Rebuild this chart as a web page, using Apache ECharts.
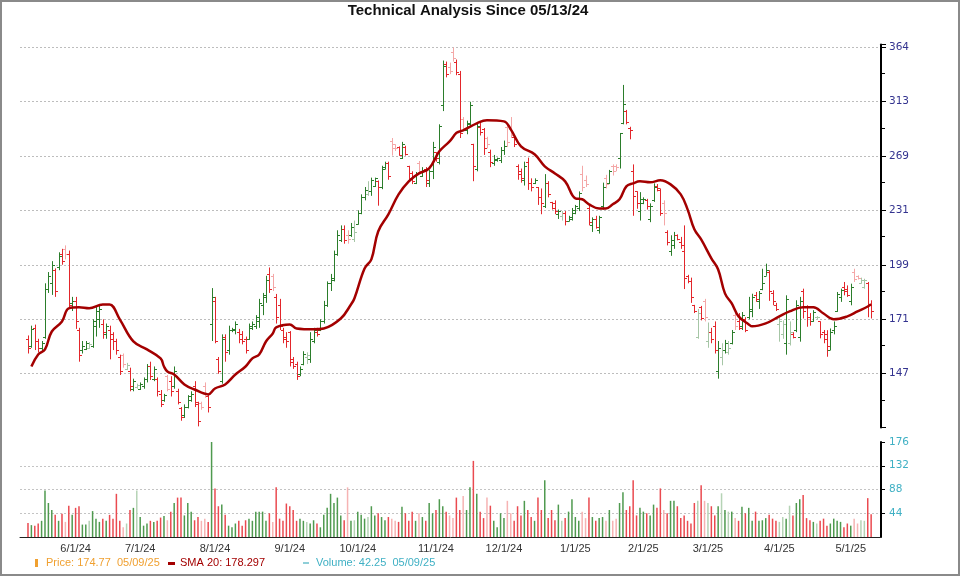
<!DOCTYPE html>
<html><head><meta charset="utf-8">
<script src="https://cdn.jsdelivr.net/npm/echarts@6/dist/echarts.min.js"></script>
<style>html,body{margin:0;padding:0;background:#fff}#c{width:960px;height:576px}</style>
</head><body><div id="c"></div>
<script>
// ---- data (trading days 05/13/24 .. 05/09/25) ----
const opens = [
162,159,167,161,158,163,186,189,196,198,
205,208,205,179,180,166,157,157.5,158,159,
168,171,169,164,166,164,161,154,155,149,
148,141,141.5,141,142,145,150,145,145,139,
136.5,146,144,142,140,133.5,131,134,136.5,142,
135,135.5,142,138,169,180,153,144,163,157,
166,166,165,164,162,162,167,168,170,178,
182,194,193,182,178,166,163,165,153,151,
147,151,154,153,161,165,166,170,178,189,
191,205,213,220,216,216,214,223,230,240,
242,244,248,251,247,260,264,281,278,276,
268,276,262,257,250,264,255,260,250,258,
272,265,310,348,345,359,350,338,298,289,
294,278,260,292,290,283,272,264,266,266,
274,292,290,284,262,258,252,265,250,250,
247,240,234,250,237,236,229,228,230,225,
226,230,233,256,252,233,222,226,219,234,
253,250,262,262,268,295,305,291,258,244,
231,236,238,226,238,248,245,236,218,207,
210,216,212,207,193,190,178,163,177,180,
161,165,168,148,154,157,156,160,173,170,
168,171,172,175,183,180,186,193,195,184,
178,169,164,160,160,164,166,163,185,177,
172,170,172,170,165,164,157,166,175,182,
187,186,180,195,193,189,187,189,178];
const highs = [
163.5,168,168.5,162,161,189,195,201,197,206,
208,210,207,182,182,167,161,161,160.5,171,
177,177.5,171,169,168,165,162,155,155.5,151.5,
149.5,145,143,143.5,145.5,151,152,150,145.5,140.5,
139,146.5,146,150,141,134,135,138.5,140,144,
136,136,143.5,138.5,186.5,182,154,164,164,168,
167,170,166.5,165.5,163,169,170,173,181,184,
193,197.5,194,183.5,181,167,165,165.5,154,152,
150,156.5,156,165,167,167,171,180,190,194,
207,219,222,222,219,223.5,225,231.5,242,247,
251,253.5,253.5,251.5,262,265,265,283,278,276.5,
280,277,262,258,257.5,265.5,261,261,259,280,
272,294,351,350,349,364,352,341,300,297,
313,278.5,295,295,291,284,274,270,268,276,
281,294,300,285,263,260,265,268,253,253,
247,246,256,251,237,238,232,231,231,228,
233,235,244,262,255,235.5,227,228,228,250,
255.5,259,263,263,287,328,306,292,263,244,
243.5,240,239,236,249.5,249,246,238,219,216,
218,216.5,215,222,193.5,192,178,176,177.5,181,
169.5,167,170,161,160,161.5,161,166,174,174,
174.5,172,182,183.6,184.5,185,196.8,199.6,196,185.4,
179,172,170.5,182.8,170,165,180.3,182,186.2,177.8,
174,175.4,172.5,170,166,165.9,166.7,170,184.5,186.2,
189.7,187.9,188.8,196.8,193.2,192,191.4,189.7,180.3];
const lows = [
155.5,158,157,156,156.5,162,184,183,182,196,
199,202,176,175,166.5,152,155.5,157,157.5,158,
163,167,162,162,153,157,155,146.5,149.5,148.5,
140,140,141,140.5,141,143.5,144.5,144,138,134,
136,140,138,141,135,129,130,133.5,136,134,
127,133,137.5,132,161,160,147,143,152,155,
165,164,160,159.5,155.5,161.5,166,166.5,167,173,
179,184,185,169,166,160,158,150,149,144.5,
146,150.5,151,151.5,160,163,165.5,169,177,185,
190,204,212,211,211,215,212,222.5,229,238,
241,241,247,234.5,245.5,259.5,252,269.5,273,269.5,
267,269.5,251.5,249,249,256,254,247,247,252.5,
265,263,305,335,338,350,337,283,289,286,
292,251,258,285,270,275,261,262,265,264,
270,276,283,276,252,250,248,245,244,249,
235,229,233,240,232,229,226,225,222,224.5,
225,229,231,244,247,222,218,220,217,232,
246,249,255,258,260,294,294,282,228,232.5,
225,235.5,232,224,237,244,228,222,210,204,
208,213,208,186,189,179,174,162,170.5,170,
158,160,155.5,145,150.5,155.5,155,159.5,166,166,
166,165,171,172,179.5,176,185.4,193,180,177.8,
175,160.7,162,155,159,162.2,165,160.7,171.4,167.5,
168,169.8,171,162.2,160,154.1,157,164,174.6,179.5,
182.8,182,177.8,189.7,191,188.8,186.2,172,171.4];
const closes = [
158,166.5,161,158,160,186,193,199,185,204,
201,205,178,180,170,155,159,160,159.5,170,
175,176,165,168,162,161,157,148,151,150.5,
142,144,142.5,143,145,150,146,149,140,135,
138.5,141,140,148,136,130.5,134,138,139,136,
129,134,139,134,182,161,148,162,156,166,
166.5,169,162,161,157,168,169,172,179,183,
191,186,187,172,168,162,161,152,150,146,
149,155.5,155,162,166,164,170,178,189,192,
205,216,220,213,214,221,218,230,240,245,
244,252,253,247,261,264,255,275,275,270,
278,271,253,251,256,258,259,252,258,276,
268,293,346,338,341,353,340,287,291,295,
310,262,293,288,275,278,265,267,267.5,274,
277,280,285,278,256,253,262,250,247,252,
240,236,250,242,233,231,231,230,225,227,
232,234,243,247,249,224,226,221,227,247,
249,258,258,261,287,311,296,289,241,236,
239,239,234,234,247,246,230,230,212,213,
216,214,210,192,190,182,175,174,171.5,172,
165,162,157,158,157,160,158,165,168,167,
173,166,176,182,181,184,189,196,185,180,
176,170,169,181,165,163,178,180,175,172,
170,174.6,172.2,164,162,159,165,168,183.6,185.4,
185,183,187,191.4,191.8,191,190.5,177.8,174.77];
const volumes = [
26,22,21,25,30,86,63,50,41,30,
43,28,58,41,54,57,23,23,30,48,
34,28,34,30,41,34,80,30,18,25,
50,54,86,37,21,25,30,28,30,36,
39,31,47,63,73,73,40,63,47,31,
37,30,34,28,176,90,57,60,41,21,
18,25,30,21,31,34,30,47,47,47,
30,44,28,92,34,30,62,57,50,30,
34,30,28,25,31,25,18,41,54,80,
63,73,40,31,92,30,31,47,41,34,
37,57,40,44,37,31,37,34,30,28,
56,44,30,47,30,44,37,30,63,44,
50,70,57,47,40,35,73,50,76,50,
92,141,80,47,35,73,58,30,18,44,
35,67,44,30,57,40,67,50,37,30,
73,50,105,35,50,31,60,30,35,47,
70,37,30,47,35,73,37,30,35,37,
30,50,30,34,63,83,50,57,105,40,
54,47,44,40,60,54,90,50,44,67,
67,57,35,40,30,25,63,67,96,67,
63,57,40,57,81,50,47,47,35,30,
56,44,54,30,47,30,31,35,41,34,
30,28,37,34,58,40,63,70,78,35,
31,28,25,30,34,21,25,34,30,28,
18,25,21,34,25,31,30,72,42.25];
// SMA 20 (bar index, value)
const smaIdx = [1,3,5,7,10,12,15,18,22,24,27,31,35,39,40,41,43,46,49,53,55,58,61,64,66,68,70,72,73,77,79,84,87,92,95,96,99,101,103,106,109,112,115,118,121,124,126,127,128,132,135,140,142,145,149,152,155,158,161,163,165,168,170,172,174,176,178,180,183,186,189,192,194,196,198,201,203,205,207,209,212,213,217,221,224,228,231,234,237,241,244,247,248];
const smaVals = [150.0,155.1,157.3,165.3,170.0,176.3,176.8,176.3,178.2,178.2,171.0,160.8,157.3,153.4,150.0,147.9,146.7,142.7,140.7,138.8,141.1,142.7,146.7,150.0,153.4,155.1,160.8,164.4,167.2,168.6,166.7,166.3,166.7,171.4,178.2,181.2,197.0,202.0,218.3,228.9,242.0,250.9,256.5,260.1,272.7,280.4,287.0,288.3,289.1,294.8,297.3,296.4,289.9,276.5,270.5,261.6,256.5,250.9,239.3,238.7,235.4,232.7,232.7,235.4,238.7,247.4,249.5,250.9,250.2,251.6,248.8,242.0,232.1,219.6,213.5,202.6,196.4,183.8,178.7,172.4,168.6,167.7,169.1,172.4,174.8,176.8,176.8,173.8,171.0,172.4,174.8,177.2,178.3];
const monthIdx = [14,33,55,77,97,120,140,161,181,200,221,242];
const monthLabels = ['6/1/24','7/1/24','8/1/24','9/1/24','10/1/24','11/1/24','12/1/24','1/1/25','2/1/25','3/1/25','4/1/25','5/1/25'];
const titleText = 'Technical Analysis Since 05/13/24';
const lastDate = '05/09/25';
const smaLastText = '178.297';

// ---- chart ----
const GREEN = '#2b7d2b', LGREEN = '#a6c6a6', RED = '#e3262b', PINK = '#f4a7a7';
const VGREEN = '#4f9a4f', VLGREEN = '#b5d3b5', VRED = '#ea4a50', VPINK = '#f6b3b3';
const N = closes.length;
const agreeFlags = closes.map((c, i) => {
  const up = c >= opens[i];
  const prev = i > 0 ? closes[i - 1] : opens[i];
  return [(c >= prev) === up, up];
});
const barColors = agreeFlags.map(([agree, up]) => up ? (agree ? GREEN : LGREEN) : (agree ? RED : PINK));
const volColors = agreeFlags.map(([agree, up]) => up ? (agree ? VGREEN : VLGREEN) : (agree ? VRED : VPINK));
const ohlc = closes.map((c, i) => [i, opens[i], highs[i], lows[i], c]);
const xMin = -2.35, xMax = 250.9;
const FONT = '"Liberation Sans", Arial, sans-serif';

const chart = echarts.init(document.getElementById('c'), null, {renderer: 'canvas', width: 960, height: 576});
chart.setOption({
  animation: false,
  backgroundColor: '#fff',
  grid: [
    {left: 20, right: 79, top: 44.5, height: 383},
    {left: 20, right: 79, top: 442, height: 95}
  ],
  xAxis: [
    {type: 'value', gridIndex: 0, min: xMin, max: xMax, show: false},
    {type: 'value', gridIndex: 1, min: xMin, max: xMax,
      axisLine: {show: true, onZero: false, lineStyle: {color: '#222', width: 1}},
      axisTick: {show: false}, splitLine: {show: false},
      axisLabel: {customValues: monthIdx,
        formatter: v => monthLabels[monthIdx.indexOf(Math.round(v))] || '',
        color: '#333', fontSize: 11, fontFamily: FONT, margin: 6}}
  ],
  yAxis: [
    {type: 'log', logBase: 1.16326, gridIndex: 0, position: 'right', min: 126.6, max: 367,
      axisLine: {show: true, onZero: false, lineStyle: {color: '#000', width: 2}},
      axisTick: {show: true, length: 5, lineStyle: {color: '#000'}},
      minorTick: {show: true, splitNumber: 2, length: 4, lineStyle: {color: '#000'}},
      axisLabel: {color: '#33338f', fontSize: 10.5, fontFamily: '"DejaVu Sans", sans-serif', margin: 8,
        showMinLabel: false, showMaxLabel: false, formatter: v => String(Math.round(v))},
      splitLine: {show: true, showMinLine: false, showMaxLine: false,
        lineStyle: {color: '#bdbdbd', type: [2, 2], width: 1}}},
    {type: 'value', gridIndex: 1, position: 'right', min: 0, max: 176, interval: 44,
      axisLine: {show: true, onZero: false, lineStyle: {color: '#000', width: 2}},
      axisTick: {show: true, length: 4, lineStyle: {color: '#000'}},
      axisLabel: {color: '#3fb0c4', fontSize: 10.5, fontFamily: '"DejaVu Sans", sans-serif', margin: 8,
        showMinLabel: false},
      splitLine: {show: true, showMinLine: false, showMaxLine: false,
        lineStyle: {color: '#c4c4c4', type: [2, 2], width: 1}}}
  ],
  series: [
    {type: 'custom', xAxisIndex: 0, yAxisIndex: 0, data: ohlc,
      encode: {x: 0, y: [1, 2, 3, 4]}, clip: false,
      renderItem: (params, api) => {
        const i = api.value(0);
        const pO = api.coord([i, api.value(1)]);
        const pH = api.coord([i, api.value(2)]);
        const pL = api.coord([i, api.value(3)]);
        const pC = api.coord([i, api.value(4)]);
        const x = Math.round(pH[0]) + 0.5;
        const col = barColors[params.dataIndex];
        const st = {stroke: col, lineWidth: 1};
        const yo = Math.round(pO[1]) + 0.5, yc = Math.round(pC[1]) + 0.5;
        return {type: 'group', children: [
          {type: 'line', shape: {x1: x, y1: pH[1], x2: x, y2: pL[1]}, style: st},
          {type: 'line', shape: {x1: x - 2.5, y1: yo, x2: x, y2: yo}, style: st},
          {type: 'line', shape: {x1: x, y1: yc, x2: x + 2.5, y2: yc}, style: st}
        ]};
      }},
    {type: 'line', xAxisIndex: 0, yAxisIndex: 0, smooth: 0.4, showSymbol: false, z: 5,
      data: smaIdx.map((k, j) => [k, smaVals[j]]),
      lineStyle: {color: '#a30000', width: 2.5}},
    {type: 'bar', xAxisIndex: 1, yAxisIndex: 1, barWidth: 1.5,
      data: volumes.map((v, i) => ({value: [i, v], itemStyle: {color: volColors[i]}}))}
  ],
  graphic: [
    {type: 'rect', silent: true, shape: {x: 1, y: 1, width: 958, height: 574},
      style: {fill: 'none', stroke: '#8a8a8a', lineWidth: 2}},
    {type: 'text', silent: true, x: 468, y: 11,
      style: {text: titleText, font: 'bold 15px "Liberation Sans Narrow", "Liberation Sans", Arial',
        fill: '#111', align: 'center', verticalAlign: 'middle'}},
    {type: 'rect', silent: true, shape: {x: 35, y: 559, width: 3, height: 8}, style: {fill: '#f0a030'}},
    {type: 'text', silent: true, x: 46, y: 563,
      style: {text: 'Price: ' + closes[N - 1] + '  ' + lastDate, font: '11px ' + FONT, fill: '#f0a030', verticalAlign: 'middle'}},
    {type: 'rect', silent: true, shape: {x: 168, y: 562, width: 7, height: 3}, style: {fill: '#a30000'}},
    {type: 'text', silent: true, x: 180, y: 563,
      style: {text: 'SMA 20: ' + smaLastText, font: '11px ' + FONT, fill: '#a30000', verticalAlign: 'middle'}},
    {type: 'rect', silent: true, shape: {x: 303, y: 562, width: 6, height: 2}, style: {fill: '#8fcfd8'}},
    {type: 'text', silent: true, x: 316, y: 563,
      style: {text: 'Volume: ' + volumes[N - 1] + '  ' + lastDate, font: '11px ' + FONT, fill: '#3fb0c4', verticalAlign: 'middle'}}
  ]
});
</script>
</body></html>
